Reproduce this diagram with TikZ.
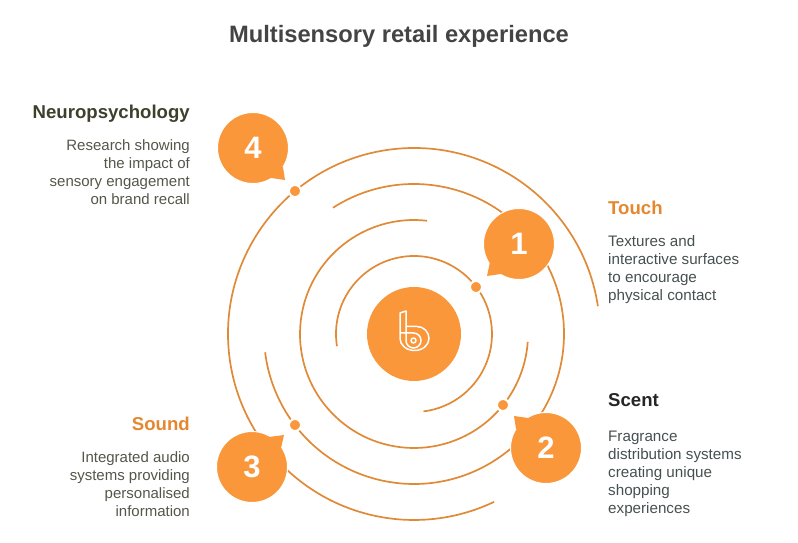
\documentclass[tikz,border=0pt]{standalone}
\usepackage{fontspec}
\setmainfont{Liberation Sans}
\definecolor{ringcol}{HTML}{E08A37}
\definecolor{fillcol}{HTML}{F9973A}
\definecolor{touchcol}{HTML}{E5872F}
\definecolor{neurocol}{HTML}{3F402C}
\definecolor{scentcol}{HTML}{262626}
\definecolor{bodycol}{HTML}{444444}
\definecolor{neurobody}{HTML}{55564A}
\definecolor{touchbody}{HTML}{465050}
\tikzset{
	ring/.style = {color = ringcol, line width = 1.7pt},
	bubble/.style = {circle, fill = fillcol, draw = white, line width = 1pt, minimum size = 71pt, inner sep = 0pt,
		text = white, font = \fontsize{31}{31}\selectfont\bfseries},
	tail/.style = {fill = fillcol},
	dotmark/.style = {circle, fill = fillcol, draw = white, line width = 2pt, minimum size = 12pt, inner sep = 0pt},
	heading/.style = {inner sep = 0pt, font = \fontsize{18.6}{21}\selectfont\bfseries},
	bodyleft/.style = {inner sep = 0pt, font = \fontsize{15}{18}\selectfont, text = neurobody, align = right, anchor = north east},
	bodyright/.style = {inner sep = 0pt, font = \fontsize{15.2}{18}\selectfont, text = touchbody, align = left, anchor = north west},
	logo/.style = {color = white, line width = 1.5pt, line join = round}
}
\begin{document}
\begin{tikzpicture}[x = 1pt, y = 1pt]
	\useasboundingbox (0,0) rectangle (798,543);
	\node[circle, fill = fillcol, minimum size = 94pt, inner sep = 0pt](hub) at (414,209){};

	% rings
	\draw[ring] (hub.center) ++(189:78) arc[start angle = 189, end angle = -83, radius = 78];
	\draw[ring] (hub.center) ++(83.4:114) arc[start angle = 83.4, end angle = 356, radius = 114];
	\draw[ring] (hub.center) ++(122.7:150) arc[start angle = 122.7, end angle = -173, radius = 150];
	\draw[ring] (hub.center) ++(8.6:186) arc[start angle = 8.6, end angle = 295.5, radius = 186];

	% dots on the rings
	\node[dotmark](dot1) at (476,256){};
	\node[dotmark](dot2) at (503,138){};
	\node[dotmark](dot3) at (295,118){};
	\node[dotmark](dot4) at (295,352){};

	% bubbles
	\node[bubble](num1) at (519,299){1};
	\node[bubble](num2) at (546,95){2};
	\node[bubble](num3) at (252,76){3};
	\node[bubble](num4) at (253,395){4};
	\fill[tail] (490,281) -- (487,267) -- (501,269) -- ([shift = {(225:26)}]num1.center) -- cycle;
	\fill[tail] (528,125) -- (514,127) -- (516,114) -- ([shift = {(135:26)}]num2.center) -- cycle;
	\fill[tail] (269,106) -- (284,108) -- (281,95) -- ([shift = {(45:26)}]num3.center) -- cycle;
	\fill[tail] (283,376) -- (285,363) -- (271,365) -- ([shift = {(-45:26)}]num4.center) -- cycle;

	% mark in the hub
	\draw[logo] (406,216.5) -- (417,216.5) arc[start angle = 90, end angle = 0, radius = 12]
		arc[start angle = 0, end angle = -180, x radius = 14.5, y radius = 12] -- (400,230) -- (406,232) -- (406,202.5)
		arc[start angle = 180, end angle = 450, radius = 7.5] -- (400,210);
	\draw[logo] (413.5,202.5) circle[radius = 2.5];

	% texts
	\node[inner sep = 0pt, font = \fontsize{23.7}{28}\selectfont\bfseries, text = bodycol](title) at (399,507){Multisensory retail experience};
	\node[heading, text = neurocol, anchor = east](neuro) at (190,429){Neuropsychology};
	\node[bodyleft](neurotext) at (190,404){Research showing\\the impact of\\sensory engagement\\on brand recall};
	\node[heading, text = touchcol, anchor = west](touch) at (608,335){Touch};
	\node[bodyright](touchtext) at (608,308){Textures and\\interactive surfaces\\to encourage\\physical contact};
	\node[heading, text = scentcol, anchor = west](scent) at (608,143){Scent};
	\node[bodyright](scenttext) at (608,112){Fragrance\\distribution systems\\creating unique\\shopping\\experiences};
	\node[heading, text = touchcol, anchor = east](sound) at (190,119){Sound};
	\node[bodyleft](soundtext) at (190,92){Integrated audio\\systems providing\\personalised\\information};
\end{tikzpicture}
\end{document}
